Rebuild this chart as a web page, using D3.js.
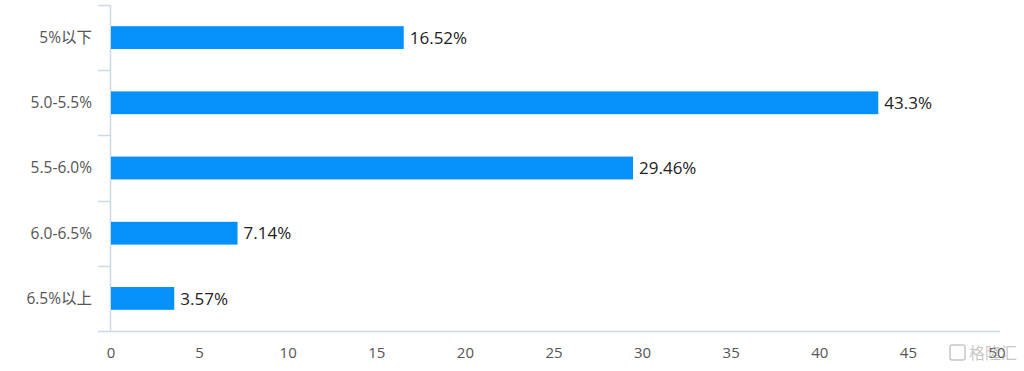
<!DOCTYPE html>
<html>
<head>
<meta charset="utf-8">
<script src="https://cdn.jsdelivr.net/npm/d3@7"></script>
<style>
  body { margin: 0; background: #fff; }
  svg { display: block; font-family: "Open Sans", "Noto Sans CJK SC", sans-serif; }
</style>
</head>
<body>
<svg id="chart" width="1024" height="371"></svg>
<script>
// data
var categories = ["5%以下", "5.0-5.5%", "5.5-6.0%", "6.0-6.5%", "6.5%以上"];
var values = [16.52, 43.3, 29.46, 7.14, 3.57];
var valueLabels = ["16.52%", "43.3%", "29.46%", "7.14%", "3.57%"];
var xTicks = [0, 5, 10, 15, 20, 25, 30, 35, 40, 45, 50];

var svg = d3.select("#chart");
var axisColor = "#cfd9e6";

// x scale: 0 at px 111, 50 at px 997
var x = d3.scaleLinear().domain([0, 50]).range([111, 997]);
var y = d3.scaleBand().domain(categories).range([5, 331]).paddingInner(0.65).paddingOuter(0.325);
var band = d3.scaleBand().domain(categories).range([5, 331]);

// y axis line
svg.append("line")
  .attr("x1", 110.5).attr("x2", 110.5)
  .attr("y1", 5).attr("y2", 331)
  .attr("stroke", axisColor).attr("stroke-width", 1.5);

// y tick marks at band boundaries
var bounds = categories.map(function(c) { return band(c); });
svg.selectAll(".ytick").data(bounds).enter().append("line")
  .attr("x1", 98).attr("x2", 110)
  .attr("y1", function(d) { return Math.round(d) + 0.5; })
  .attr("y2", function(d) { return Math.round(d) + 0.5; })
  .attr("stroke", axisColor).attr("stroke-width", 1.5);

// x axis line
svg.append("line")
  .attr("x1", 98).attr("x2", 1000)
  .attr("y1", 331.5).attr("y2", 331.5)
  .attr("stroke", axisColor).attr("stroke-width", 1.5);

// x tick labels
svg.selectAll(".xlab").data(xTicks).enter().append("text")
  .attr("x", function(d) { return x(d); })
  .attr("y", 358)
  .attr("text-anchor", "middle")
  .attr("font-size", 15)
  .attr("fill", "#555")
  .text(function(d) { return d; });

// category labels
svg.selectAll(".ylab").data(categories).enter().append("text")
  .attr("x", 92)
  .attr("y", function(d) { return band(d) + band.bandwidth() / 2; })
  .attr("dy", "0.35em")
  .attr("text-anchor", "end")
  .attr("font-size", 15.5)
  .attr("fill", "#555")
  .text(function(d) { return d; });

// bars
svg.selectAll(".bar").data(values).enter().append("rect")
  .attr("x", x(0))
  .attr("y", function(d, i) { return y(categories[i]); })
  .attr("width", function(d) { return x(d) - x(0); })
  .attr("height", y.bandwidth())
  .attr("fill", "#0591f8");

// value labels
svg.selectAll(".val").data(values).enter().append("text")
  .attr("x", function(d) { return x(d) + 6; })
  .attr("y", function(d, i) { return y(categories[i]) + y.bandwidth() / 2; })
  .attr("dy", "0.36em")
  .attr("font-size", 17)
  .attr("fill", "#222")
  .text(function(d, i) { return valueLabels[i]; });

// watermark
var wm = svg.append("g").attr("opacity", 0.55);
wm.append("rect")
  .attr("x", 950).attr("y", 345).attr("width", 15).attr("height", 15)
  .attr("rx", 2).attr("fill", "#fff").attr("stroke", "#999").attr("stroke-width", 1.5);
wm.append("text")
  .attr("x", 969).attr("y", 359)
  .attr("font-size", 16)
  .attr("font-family", "Noto Sans CJK SC")
  .attr("fill", "#999")
  .text("格隆汇");
</script>
</body>
</html>
